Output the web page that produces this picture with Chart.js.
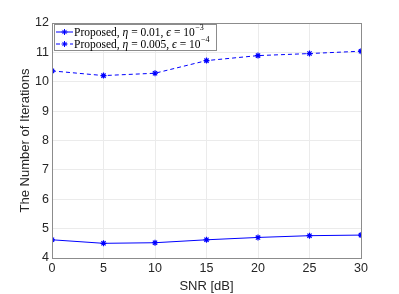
<!DOCTYPE html>
<html>
<head>
<meta charset="utf-8">
<script src="https://cdn.jsdelivr.net/npm/chart.js@4/dist/chart.umd.min.js"></script>
<style>
  html, body { margin: 0; padding: 0; background: #fff; }
  #wrap { width: 399px; height: 294px; }
</style>
</head>
<body>
<div id="wrap"><canvas id="graph"></canvas></div>
<script>
// data
var snr = [0, 5, 10, 15, 20, 25, 30];
var iter_eta001 = [4.62, 4.50, 4.52, 4.62, 4.70, 4.76, 4.78];
var iter_eta0005 = [10.37, 10.21, 10.29, 10.72, 10.89, 10.96, 11.04];

var blue = "#0000ff";
var axisGray = "#262626";

function pts(ys) {
    var out = [];
    for (let i = 0; i < snr.length; i++) {
        out.push({ x: snr[i], y: ys[i] });
    }
    return out;
}

// box round the axes, like matlab "box on"
var boxPlugin = {
    id: "box",
    afterDraw: function (chart) {
        var a = chart.chartArea;
        var ctx = chart.ctx;
        ctx.save();
        ctx.strokeStyle = "#8c8c8c";
        ctx.lineWidth = 1;
        ctx.strokeRect(a.left + 0.5, a.top + 0.5, a.right - a.left, a.bottom - a.top);
        ctx.restore();
    }
};

// legend drawn inside the axes, top left
var legendPlugin = {
    id: "innerLegend",
    afterDraw: function (chart) {
        var ctx = chart.ctx;
        var a = chart.chartArea;
        var x0 = a.left + 2, y0 = a.top + 1;
        var w = 162, h = 26;
        ctx.save();
        ctx.fillStyle = "#fff";
        ctx.fillRect(x0, y0, w, h);
        ctx.strokeStyle = "#8c8c8c";
        ctx.lineWidth = 1;
        ctx.strokeRect(x0 + 0.5, y0 + 0.5, w, h);

        var rows = [
            { eta: "0.01", eps: "\u22123", dash: [] },
            { eta: "0.005", eps: "\u22124", dash: [4, 3] }
        ];
        rows.forEach(function (r, i) {
            var cy = y0 + 8 + i * 12;
            ctx.strokeStyle = blue;
            ctx.setLineDash(r.dash);
            ctx.beginPath();
            ctx.moveTo(x0 + 2, cy);
            ctx.lineTo(x0 + 19, cy);
            ctx.stroke();
            ctx.setLineDash([]);
            // asterisk marker
            var mx = x0 + 10.5, s = 3;
            ctx.beginPath();
            ctx.moveTo(mx - s, cy); ctx.lineTo(mx + s, cy);
            ctx.moveTo(mx, cy - s); ctx.lineTo(mx, cy + s);
            ctx.moveTo(mx - s * 0.7, cy - s * 0.7); ctx.lineTo(mx + s * 0.7, cy + s * 0.7);
            ctx.moveTo(mx - s * 0.7, cy + s * 0.7); ctx.lineTo(mx + s * 0.7, cy - s * 0.7);
            ctx.stroke();

            var tx = x0 + 20;
            ctx.fillStyle = "#000";
            ctx.textBaseline = "middle";
            var parts = [
                ["Proposed, ", "normal"],
                ["\u03b7", "italic"],
                [" = " + r.eta + ", ", "normal"],
                ["\u03f5", "italic"],
                [" = 10", "normal"]
            ];
            parts.forEach(function (p) {
                ctx.font = p[1] + " 11.5px 'Liberation Serif', 'DejaVu Serif', serif";
                ctx.fillText(p[0], tx, cy + 0.5);
                tx += ctx.measureText(p[0]).width;
            });
            ctx.font = "8px 'Liberation Serif', 'DejaVu Serif', serif";
            ctx.fillText(r.eps, tx + 0.5, cy - 4);
        });
        ctx.restore();
    }
};

var ctx = document.getElementById("graph").getContext("2d");

var data = {
    datasets: [
        {
            label: "Proposed, \u03b7 = 0.01, \u03f5 = 10\u207b\u00b3",
            data: pts(iter_eta001),
            borderColor: blue,
            backgroundColor: blue,
            borderWidth: 1,
            pointStyle: "star",
            pointRadius: 3,
            pointBorderWidth: 1.2,
            tension: 0
        },
        {
            label: "Proposed, \u03b7 = 0.005, \u03f5 = 10\u207b\u2074",
            data: pts(iter_eta0005),
            borderColor: blue,
            backgroundColor: blue,
            borderWidth: 1,
            borderDash: [4, 3],
            pointStyle: "star",
            pointRadius: 3,
            pointBorderWidth: 1.2,
            tension: 0
        }
    ]
};

var tickFont = { family: "Liberation Sans, Arial, sans-serif", size: 12.5 };
var titleFont = { family: "Liberation Sans, Arial, sans-serif", size: 13 };

var options = {
    responsive: true,
    maintainAspectRatio: false,
    animation: false,
    layout: { padding: { top: 23, right: 38, left: 18, bottom: 0 } },
    plugins: {
        legend: { display: false },
        tooltip: { enabled: false }
    },
    scales: {
        x: {
            type: "linear",
            min: 0,
            max: 30,
            ticks: { stepSize: 5, color: axisGray, font: tickFont, padding: 3 },
            grid: { color: "#ebebeb", drawTicks: false },
            border: { display: false },
            title: {
                display: true,
                text: "SNR [dB]",
                color: axisGray,
                font: titleFont,
                padding: { top: 0, bottom: 0 }
            },
            afterFit: function (scale) { scale.height = 36; }
        },
        y: {
            min: 4,
            max: 12,
            ticks: { stepSize: 1, color: axisGray, font: tickFont, padding: 3 },
            grid: { color: "#ebebeb", drawTicks: false },
            border: { display: false },
            title: {
                display: true,
                text: "The Number of Iterations",
                color: axisGray,
                font: titleFont,
                padding: { top: 0, bottom: 0 }
            },
            afterFit: function (scale) { scale.width = 34; }
        }
    }
};

var config = {
    type: "line",
    data: data,
    options: options,
    plugins: [boxPlugin, legendPlugin]
};

var graph = new Chart(ctx, config);
</script>
</body>
</html>
